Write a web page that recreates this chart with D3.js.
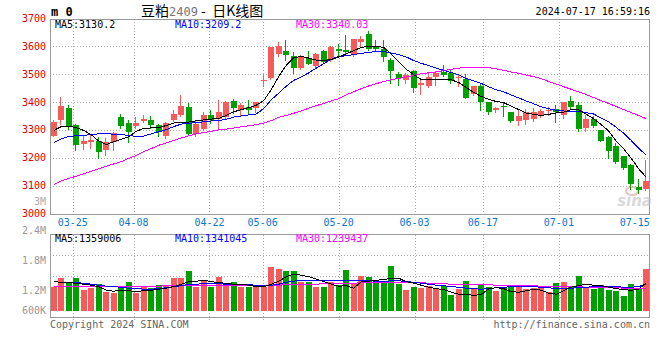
<!DOCTYPE html>
<html>
<head>
<meta charset="utf-8">
<script src="https://cdn.jsdelivr.net/npm/d3@7"></script>
<style>
  body { margin: 0; background: #fff; }
  svg { display: block; }
  text { font-family: "DejaVu Sans Mono", monospace; font-size: 10px; }
  .grid { stroke: #aaa; stroke-dasharray: 1,2; shape-rendering: crispEdges; }
  .frame { fill: none; stroke: #999; shape-rendering: crispEdges; }
  .ma { fill: none; stroke-width: 1; shape-rendering: crispEdges; }
</style>
</head>
<body>
<script>
// daily candles, 2024-03-20 .. 2024-07-17
var dates = ['03-20','03-21','03-22','03-25','03-26','03-27','03-28','03-29','04-01','04-02',
  '04-03','04-08','04-09','04-10','04-11','04-12','04-15','04-16','04-17','04-18',
  '04-19','04-22','04-23','04-24','04-25','04-26','04-29','04-30','05-06','05-07',
  '05-08','05-09','05-10','05-13','05-14','05-15','05-16','05-17','05-20','05-21',
  '05-22','05-23','05-24','05-27','05-28','05-29','05-30','05-31','06-03','06-04',
  '06-05','06-06','06-07','06-11','06-12','06-13','06-14','06-17','06-18','06-19',
  '06-20','06-21','06-24','06-25','06-26','06-27','06-28','07-01','07-02','07-03',
  '07-04','07-05','07-08','07-09','07-10','07-11','07-12','07-15','07-16','07-17']
var open = [3279,3337,3380,3318,3251,3255,3261,3227,3255,3346,
  3325,3314,3332,3334,3318,3279,3334,3355,3382,3286,
  3305,3353,3339,3346,3404,3373,3382,3380,3475,3486,
  3573,3584,3566,3522,3557,3528,3585,3552,3592,3588,
  3570,3614,3645,3600,3592,3552,3502,3480,3511,3461,
  3456,3490,3509,3504,3486,3484,3430,3458,3401,3370,
  3386,3363,3333,3337,3340,3351,3368,3376,3355,3405,
  3390,3307,3339,3301,3275,3244,3206,3173,3095,3087]
var high = [3334,3420,3390,3322,3279,3282,3275,3271,3291,3358,
  3334,3348,3353,3349,3320,3330,3373,3425,3398,3334,
  3365,3370,3406,3405,3412,3398,3407,3401,3500,3596,
  3616,3623,3578,3568,3585,3576,3588,3600,3607,3640,
  3627,3638,3655,3623,3623,3559,3509,3504,3516,3480,
  3504,3511,3534,3516,3500,3500,3458,3470,3401,3384,
  3402,3363,3375,3375,3379,3375,3382,3390,3402,3423,
  3399,3355,3351,3301,3277,3254,3206,3177,3123,3192]
var low = [3277,3322,3303,3227,3233,3234,3198,3209,3228,3306,
  3255,3307,3327,3306,3277,3270,3332,3351,3282,3277,
  3300,3325,3305,3344,3361,3355,3361,3363,3456,3482,
  3564,3552,3504,3518,3535,3525,3542,3549,3561,3572,
  3566,3597,3588,3585,3549,3468,3462,3468,3437,3430,
  3454,3461,3492,3470,3456,3413,3425,3372,3356,3363,
  3349,3327,3319,3323,3331,3346,3355,3327,3343,3375,
  3295,3295,3310,3260,3198,3182,3158,3089,3073,3085]
var close = [3327,3387,3313,3247,3261,3265,3222,3258,3289,3315,
  3293,3326,3339,3318,3291,3325,3358,3387,3286,3320,
  3353,3334,3365,3402,3377,3390,3373,3401,3478,3596,
  3600,3570,3524,3566,3537,3571,3545,3596,3584,3580,
  3627,3626,3592,3590,3560,3510,3486,3496,3449,3470,
  3490,3506,3497,3474,3490,3416,3458,3399,3363,3377,
  3384,3333,3351,3363,3363,3367,3373,3364,3399,3381,
  3305,3339,3313,3260,3224,3185,3164,3105,3085,3117]
var ma5 = [3298,3312,3314,3308,3298,3283,3260,3247,3258,3266,
  3276,3295,3306,3307,3308,3316,3325,3327,3328,3333,
  3336,3339,3341,3352,3365,3373,3380,3389,3405,3445,
  3492,3532,3559,3564,3558,3551,3549,3553,3562,3573,
  3585,3596,3600,3600,3596,3572,3545,3518,3498,3481,
  3480,3480,3480,3480,3470,3452,3435,3420,3410,3402,
  3398,3385,3373,3360,3356,3352,3356,3361,3364,3373,
  3372,3356,3340,3319,3296,3260,3232,3198,3160,3130]
var ma10 = [3255,3268,3276,3279,3281,3283,3286,3286,3285,3284,
  3280,3277,3278,3286,3293,3301,3312,3321,3324,3326,
  3329,3332,3334,3338,3346,3350,3354,3357,3377,3408,
  3432,3457,3478,3490,3505,3522,3538,3554,3564,3566,
  3571,3575,3578,3582,3581,3576,3570,3562,3549,3539,
  3531,3522,3514,3506,3497,3485,3476,3467,3455,3444,
  3437,3425,3415,3404,3394,3383,3376,3371,3368,3367,
  3367,3362,3357,3342,3329,3309,3288,3262,3234,3209]
var ma30 = [3104,3117,3126,3134,3143,3152,3161,3170,3178,3186,
  3198,3208,3222,3233,3245,3253,3262,3271,3279,3286,
  3291,3295,3300,3303,3307,3311,3315,3319,3325,3333,
  3345,3352,3360,3368,3378,3387,3395,3404,3412,3426,
  3437,3448,3458,3466,3474,3480,3485,3490,3495,3502,
  3505,3508,3513,3518,3522,3524,3525,3525,3524,3519,
  3514,3508,3503,3497,3491,3484,3474,3465,3455,3446,
  3436,3427,3416,3405,3395,3384,3373,3362,3352,3340]
// volume, millions of lots
var volume = [1.28,1.46,1.37,1.46,1.21,1.25,1.33,1.18,1.15,1.25,
  1.38,1.15,1.28,1.25,1.31,1.31,1.46,1.46,1.59,1.28,
  1.41,1.28,1.48,1.35,1.37,1.28,1.28,1.28,1.28,1.68,
  1.63,1.59,1.59,1.37,1.38,1.28,1.28,1.37,1.31,1.61,
  1.35,1.49,1.47,1.37,1.37,1.69,1.33,1.21,1.28,1.26,
  1.30,1.26,1.29,1.11,1.23,1.39,1.26,1.33,1.28,1.20,
  1.26,1.30,1.28,1.23,1.26,1.28,1.18,1.36,1.38,1.28,
  1.50,1.28,1.23,1.31,1.21,1.20,1.10,1.33,1.25,1.64]
var volMa5 = [1.38,1.37,1.36,1.35,1.33,1.31,1.28,1.21,1.19,1.21,
  1.20,1.18,1.20,1.21,1.23,1.25,1.28,1.33,1.38,1.39,
  1.41,1.38,1.36,1.35,1.33,1.33,1.31,1.28,1.28,1.33,
  1.39,1.48,1.53,1.51,1.48,1.43,1.38,1.33,1.29,1.30,
  1.25,1.38,1.39,1.41,1.42,1.45,1.45,1.38,1.35,1.31,
  1.27,1.24,1.22,1.17,1.13,1.12,1.11,1.12,1.24,1.26,
  1.24,1.18,1.17,1.20,1.23,1.21,1.15,1.13,1.20,1.27,
  1.30,1.33,1.31,1.30,1.27,1.24,1.22,1.21,1.23,1.36]
var volMa10 = [1.38,1.37,1.37,1.36,1.35,1.33,1.31,1.29,1.28,1.27,
  1.25,1.25,1.23,1.23,1.24,1.26,1.28,1.30,1.33,1.33,
  1.34,1.34,1.34,1.33,1.33,1.33,1.32,1.31,1.30,1.31,
  1.33,1.37,1.39,1.41,1.41,1.41,1.41,1.41,1.41,1.40,
  1.41,1.41,1.40,1.39,1.38,1.40,1.40,1.38,1.37,1.35,
  1.33,1.31,1.30,1.28,1.27,1.25,1.24,1.23,1.24,1.26,
  1.27,1.28,1.29,1.29,1.28,1.27,1.26,1.24,1.24,1.25,
  1.26,1.27,1.28,1.29,1.29,1.28,1.27,1.27,1.28,1.34]
var volMa30 = [1.28,1.28,1.28,1.28,1.28,1.28,1.28,1.28,1.28,1.28,
  1.28,1.28,1.29,1.29,1.29,1.30,1.30,1.30,1.30,1.31,
  1.31,1.31,1.31,1.31,1.31,1.31,1.31,1.31,1.31,1.31,
  1.31,1.32,1.32,1.33,1.33,1.33,1.34,1.34,1.34,1.35,
  1.35,1.36,1.36,1.36,1.36,1.37,1.37,1.36,1.36,1.36,
  1.35,1.35,1.34,1.33,1.33,1.33,1.32,1.32,1.32,1.31,
  1.31,1.30,1.30,1.30,1.30,1.29,1.29,1.29,1.28,1.28,
  1.28,1.27,1.27,1.27,1.26,1.26,1.25,1.25,1.24,1.24]
var priceTicks = [3000,3100,3200,3300,3400,3500,3600,3700]
var volTicks = [0.6,1.2,1.8,2.4]
var volTickLabels = ['600K','1.2M','1.8M','2.4M']
var dateTicks = ['03-25','04-08','04-22','05-06','05-20','06-03','06-17','07-01','07-15']

var W = 660, H = 360
  , RED = '#f65b5b', GREEN = '#00a000'
  , svg = d3.select('body').append('svg').attr('width', W).attr('height', H)

var x = d3.scaleBand().domain(dates).range([50, 650]).paddingInner(0.2).paddingOuter(0.1)
  , xp = d3.scalePoint().domain(dates).range([50, 650])
  , y = d3.scaleLinear().domain([3000, 3700]).range([213.5, 18.5])
  , yv = d3.scaleLinear().domain([1.2, 1.8]).range([290.7, 260.7])
  , cx = function(d){ return Math.round(x(d)) + 2.5 }
  , px = function(v){ return Math.round(v) + 0.5 }

var candles = dates.map(function(d, i){
  return { date: d, o: open[i], h: high[i], l: low[i], c: close[i], v: volume[i], up: close[i] >= open[i] }
})

// ---- price panel ----
var pTop = y(3700), pBot = y(3000), vTop = 234.5, vBot = 317.5, vBarBot = 311

var gridX = dateTicks.filter(function(d){ return xp(d) < 620 })
svg.append('g').selectAll('line').data(gridX).enter().append('line')
  .attr('class', 'grid')
  .attr('x1', function(d){ return px(xp(d)) }).attr('x2', function(d){ return px(xp(d)) })
  .attr('y1', pTop).attr('y2', pBot + 2)
svg.append('g').selectAll('line').data(priceTicks.slice(1, -1)).enter().append('line')
  .attr('class', 'grid')
  .attr('x1', 50).attr('x2', 650)
  .attr('y1', function(d){ return px(y(d)) }).attr('y2', function(d){ return px(y(d)) })
svg.append('rect').attr('class', 'frame')
  .attr('x', 50.5).attr('y', px(pTop)).attr('width', 599).attr('height', px(pBot) - px(pTop))

svg.append('g').selectAll('text').data(priceTicks).enter().append('text')
  .attr('x', 46).attr('y', function(d){ return y(d) }).attr('dy', '0.35em')
  .attr('text-anchor', 'end').attr('fill', '#e00000')
  .text(function(d){ return d })
svg.append('text').attr('x', 46).attr('y', 201).attr('dy', '0.35em')
  .attr('text-anchor', 'end').attr('fill', '#aaa').text('3M')

// sina watermark
var wm = svg.append('g').attr('opacity', 0.55)
wm.append('ellipse').attr('cx', 632).attr('cy', 191).attr('rx', 6).attr('ry', 4)
  .attr('fill', 'none').attr('stroke', '#e88').attr('stroke-width', 2)
wm.append('text').attr('x', 652).attr('y', 206).attr('text-anchor', 'end')
  .style('font-family', 'Verdana, "DejaVu Sans", sans-serif').style('font-size', '15px')
  .style('font-weight', 'bold').style('font-style', 'italic').attr('fill', '#bbb').text('sina')

var cg = svg.append('g').selectAll('g').data(candles).enter().append('g')
cg.append('line')
  .attr('x1', function(d){ return cx(d.date) }).attr('x2', function(d){ return cx(d.date) })
  .attr('y1', function(d){ return Math.round(y(d.h)) }).attr('y2', function(d){ return Math.round(y(d.l)) + 1 })
  .attr('stroke', function(d){ return d.up ? RED : GREEN })
  .style('shape-rendering', 'crispEdges')
cg.append('rect')
  .attr('x', function(d){ return Math.round(x(d.date)) })
  .attr('width', 6)
  .attr('y', function(d){ return Math.round(y(Math.max(d.o, d.c))) })
  .attr('height', function(d){ return Math.max(1, Math.round(y(Math.min(d.o, d.c))) - Math.round(y(Math.max(d.o, d.c)))) })
  .attr('fill', function(d){ return d.up ? RED : GREEN })
  .style('shape-rendering', 'crispEdges')

var priceLine = function(arr){
  return d3.line().x(function(d, i){ return x(dates[i]) + x.bandwidth() / 2 }).y(function(d){ return y(d) })(arr)
}
svg.append('clipPath').attr('id', 'pclip').append('rect').attr('x', 51).attr('y', pTop).attr('width', 598).attr('height', pBot - pTop)
var mg = svg.append('g').attr('clip-path', 'url(#pclip)')
;[[ma30, '#ff00ff'], [ma10, '#0000ff'], [ma5, '#000']].forEach(function(s){
  mg.append('path').attr('class', 'ma').attr('d', priceLine(s[0])).attr('stroke', s[1])
})

var legend = function(yy, items){
  items.forEach(function(it){
    svg.append('text').attr('x', it[0]).attr('y', yy).attr('fill', it[2]).text(it[1])
  })
}
legend(27.5, [[55, 'MA5:3130.2', '#000'], [175, 'MA10:3209.2', '#0000ff'], [296, 'MA30:3340.03', '#ff00ff']])

// date labels
svg.append('g').selectAll('text').data(dateTicks).enter().append('text')
  .attr('x', function(d){ return xp(d) }).attr('y', 222).attr('dy', '0.35em')
  .attr('text-anchor', 'middle').attr('fill', '#0a78d0')
  .text(function(d){ return d })

// ---- volume panel ----
svg.append('g').selectAll('line').data(gridX).enter().append('line')
  .attr('class', 'grid')
  .attr('x1', function(d){ return px(xp(d)) }).attr('x2', function(d){ return px(xp(d)) })
  .attr('y1', vTop).attr('y2', vBot + 3)
svg.append('g').selectAll('line').data(d3.range(1, 4)).enter().append('line')
  .attr('class', 'grid')
  .attr('x1', 50).attr('x2', 650)
  .attr('y1', function(i){ return px(vTop + i * (vBot - vTop) / 4) })
  .attr('y2', function(i){ return px(vTop + i * (vBot - vTop) / 4) })

svg.append('g').selectAll('rect').data(candles).enter().append('rect')
  .attr('x', function(d){ return Math.round(x(d.date)) })
  .attr('width', 6)
  .attr('y', function(d){ return Math.round(yv(d.v)) })
  .attr('height', function(d){ return vBarBot - Math.round(yv(d.v)) })
  .attr('fill', function(d){ return d.up ? RED : GREEN })
  .style('shape-rendering', 'crispEdges')

var volLine = function(arr){
  return d3.line().x(function(d, i){ return x(dates[i]) + x.bandwidth() / 2 }).y(function(d){ return yv(d) })(arr)
}
;[[volMa30, '#ff00ff'], [volMa10, '#0000ff'], [volMa5, '#000']].forEach(function(s){
  svg.append('path').attr('class', 'ma').attr('d', volLine(s[0])).attr('stroke', s[1])
})

svg.append('rect').attr('class', 'frame')
  .attr('x', 50.5).attr('y', vTop).attr('width', 599).attr('height', vBot - vTop)

svg.append('g').selectAll('text').data(volTicks).enter().append('text')
  .attr('x', 46).attr('y', function(d){ return Math.min(yv(d), 310) }).attr('dy', '0.35em')
  .attr('text-anchor', 'end').attr('fill', '#999')
  .text(function(d, i){ return volTickLabels[i] })

legend(241.5, [[55, 'MA5:1359006', '#000'], [175, 'MA10:1341045', '#0000ff'], [296, 'MA30:1239437', '#ff00ff']])

// ---- header / footer ----
svg.append('text').attr('x', 51).attr('y', 16).style('font-size', '12px').style('font-weight', 'bold').text('m 0')
var title = svg.append('text').attr('x', 141).attr('y', 16)
  .style('font-family', '"Noto Sans CJK SC", sans-serif').style('font-size', '14px')
title.append('tspan').text('豆粕')
title.append('tspan').attr('fill', '#777').style('font-family', '"DejaVu Sans Mono", monospace').style('font-size', '12px').text('2409')
title.append('tspan').text('\u00a0-\u00a0\u00a0日K线图')
svg.append('text').attr('x', 650).attr('y', 15).attr('text-anchor', 'end').text('2024-07-17 16:59:16')

svg.append('text').attr('x', 50).attr('y', 328).attr('fill', '#666').text('Copyright 2024 SINA.COM')
svg.append('text').attr('x', 650).attr('y', 328).attr('text-anchor', 'end').attr('fill', '#666').text('http://finance.sina.com.cn')
</script>
</body>
</html>
